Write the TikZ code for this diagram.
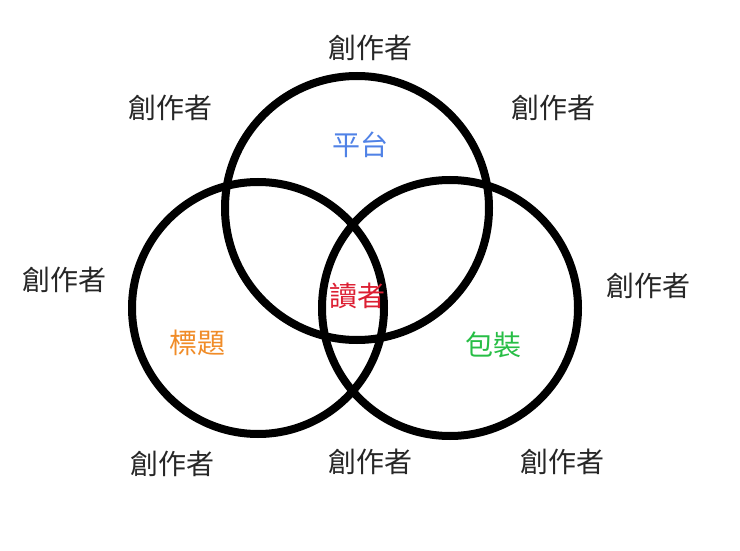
\documentclass[tikz,border=0pt]{standalone}
\usepackage{fontspec}
\newfontfamily\cjk{Noto Sans CJK TC}
\begin{document}
\begin{tikzpicture}[x=1pt,y=-1pt,
  ring/.style={draw=black,line width=8pt},
  lbl/.style={font=\cjk\fontsize{28}{28}\selectfont,text=black!85}]
\useasboundingbox (0,0) rectangle (740,551);
\draw[ring] (357,208) circle (132);
\draw[ring] (258,308) circle (126);
\draw[ring] (450,308) circle (128);
\node[lbl] (c1) at (370,48) {創作者};
\node[lbl] (c2) at (170,108) {創作者};
\node[lbl] (c3) at (553,108) {創作者};
\node[lbl] (c4) at (65,280) {創作者};
\node[lbl] (c5) at (648,286) {創作者};
\node[lbl] (c6) at (172,464) {創作者};
\node[lbl] (c7) at (370,462) {創作者};
\node[lbl] (c8) at (562,462) {創作者};
\node[lbl,text={rgb,255:red,80;green,130;blue,230}] (p) at (360,145) {平台};
\node[lbl,text={rgb,255:red,240;green,140;blue,40}] (t) at (197,343) {標題};
\node[lbl,text={rgb,255:red,40;green,190;blue,70}] (b) at (493,345) {包裝};
\node[lbl,text={rgb,255:red,220;green,30;blue,50}] (r) at (357,296) {讀者};
\end{tikzpicture}
\end{document}
